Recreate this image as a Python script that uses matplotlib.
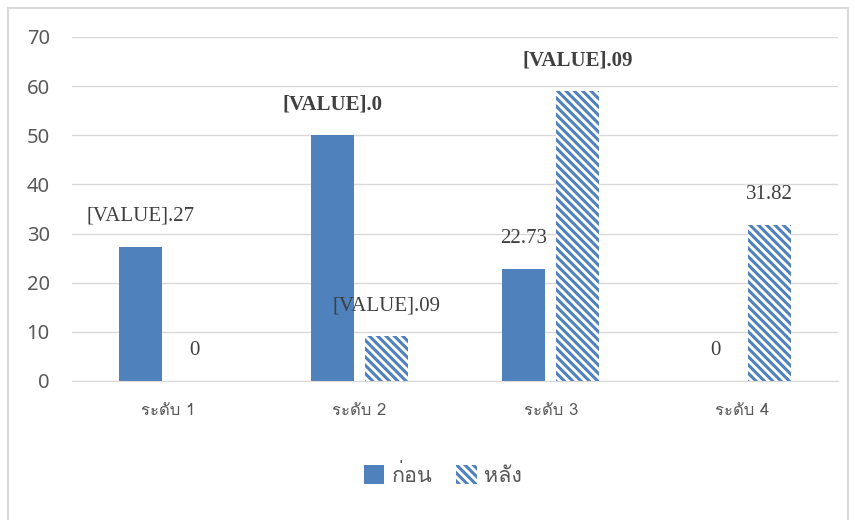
import matplotlib
matplotlib.use('Agg')
import matplotlib.pyplot as plt
from matplotlib import font_manager, ft2font
from matplotlib.patches import Patch, Rectangle

# ข้อมูล
categories = ['ระดับ 1', 'ระดับ 2', 'ระดับ 3', 'ระดับ 4']
before = [27.27, 50.0, 22.73, 0]
after = [0, 9.09, 59.09, 31.82]
before_labels = ['[VALUE].27', '[VALUE].0', '22.73', '0']
after_labels = ['0', '[VALUE].09', '[VALUE].09', '31.82']
before_bold = [False, True, False, False]
after_bold = [False, False, True, False]
series_names = ['ก่อน', 'หลัง']


def find_thai_fonts():
    '''หา font ที่มีอักษรไทย'''
    names = []
    for f in font_manager.fontManager.ttflist:
        try:
            cmap = ft2font.FT2Font(f.fname).get_charmap()
        except Exception:
            continue
        if 0x0E01 in cmap and 0x0E31 in cmap and f.name not in names:
            names.append(f.name)
    return names


thai = find_thai_fonts()
thai_family = thai[:1] + ['DejaVu Sans']

blue = '#4f81bd'
grid_c = '#d9d9d9'
txt_c = '#595959'
lab_c = '#404040'
plt.rcParams['hatch.linewidth'] = 2.2

fig = plt.figure(figsize=(8.55, 5.2), dpi=100)
ax = fig.add_axes([72/855, 1-381/520, (838-72)/855, (381-37)/520])

x = list(range(len(categories)))
w = 0.225
off = 0.14
b1 = ax.bar([i - off for i in x], before, w, color=blue, linewidth=0)
b2 = ax.bar([i + off for i in x], after, w, facecolor='white', edgecolor=blue,
            linewidth=0, hatch='\\\\\\\\')

for bars, labs, bolds in ((b1, before_labels, before_bold), (b2, after_labels, after_bold)):
    for r, t, bd in zip(bars, labs, bolds):
        ax.annotate(t, (r.get_x() + r.get_width()/2, r.get_height()),
                    xytext=(0, 22), textcoords='offset points', ha='center', va='center',
                    fontsize=15, family='Liberation Serif', color=lab_c,
                    fontweight='bold' if bd else 'normal')

ax.set_xlim(-0.5, 3.5)
ax.set_ylim(0, 70)
ax.set_yticks(range(0, 80, 10))
ax.yaxis.grid(True, color=grid_c, lw=1)
ax.set_axisbelow(True)
for s in ('top', 'right', 'left'):
    ax.spines[s].set_visible(False)
ax.spines['bottom'].set_color(grid_c)
ax.tick_params(axis='both', length=0)
ax.tick_params(axis='y', pad=16, labelsize=14.5, labelcolor=txt_c)
ax.set_yticklabels([str(v) for v in range(0, 80, 10)], family='Noto Sans')
ax.set_xticks(x)
ax.set_xticklabels(categories, family=thai_family, fontsize=12, color=txt_c)
ax.tick_params(axis='x', pad=16)

handles = [Patch(facecolor=blue, linewidth=0),
           Patch(facecolor='white', edgecolor=blue, linewidth=0, hatch='\\\\\\\\')]
fig.legend(handles, series_names, loc='center', bbox_to_anchor=(443/855, 1-476/520),
           ncol=2, frameon=False, prop={'family': thai_family, 'size': 15.5},
           labelcolor=txt_c, handlelength=0.95, handleheight=0.95, columnspacing=1.1,
           handletextpad=0.35)

# กรอบของแผนภูมิ
fig.patches.append(Rectangle((8/855, -0.1), 840/855, 1.1 - 8/520, transform=fig.transFigure,
                             fill=False, edgecolor=grid_c, lw=1.5))

fig.savefig('out.png', dpi=100)
